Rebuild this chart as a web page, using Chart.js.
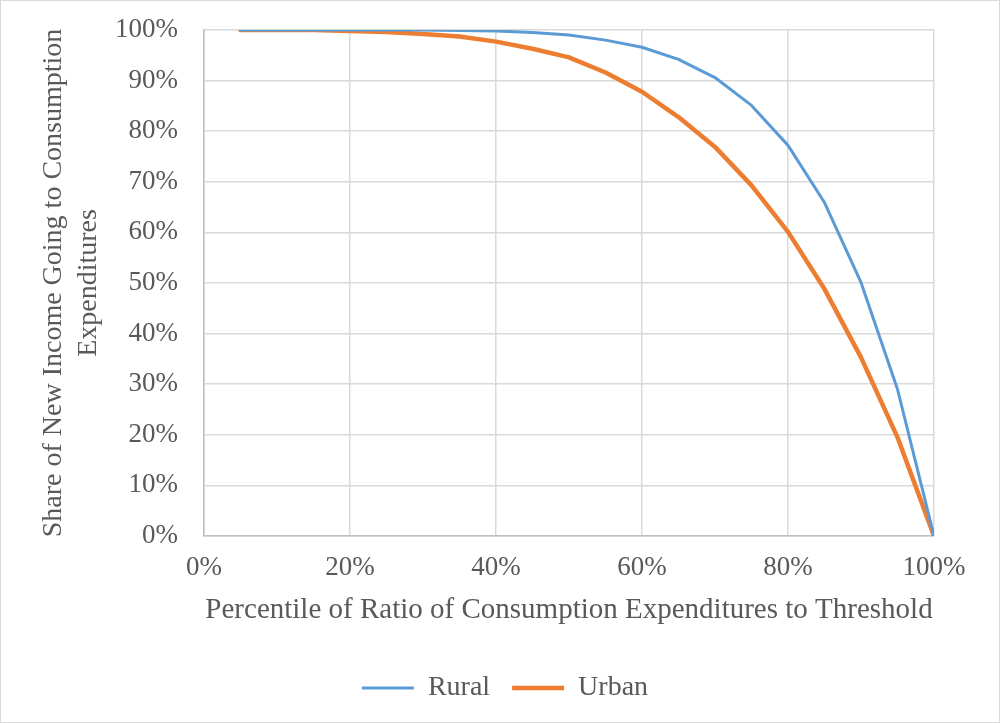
<!DOCTYPE html>
<html>
<head>
<meta charset="utf-8">
<script src="https://cdn.jsdelivr.net/npm/chart.js@4"></script>
<style>
  html, body { margin: 0; padding: 0; background: #fff; }
  #wrap { position: relative; width: 998px; height: 721px; border: 1px solid #d9d9d9; }
</style>
</head>
<body>
<div id="wrap"><canvas id="chart"></canvas></div>
<script>
// percentile of ratio (x, in %) and share of new income going to consumption (y, in %)
const percentiles = [5, 10, 15, 20, 25, 30, 35, 40, 45, 50, 55, 60, 65, 70, 75, 80, 85, 90, 95, 100];
const rural = [100, 100, 100, 100, 100, 100, 99.9, 99.8, 99.5, 99.0, 98.0, 96.6, 94.2, 90.6, 85.1, 77.2, 65.9, 50.1, 29.0, 0];
const urban = [100, 100, 100, 99.8, 99.6, 99.2, 98.7, 97.7, 96.3, 94.6, 91.6, 87.8, 82.8, 76.9, 69.3, 60.1, 48.8, 35.3, 19.5, 0];

const xTitle = "Percentile of Ratio of Consumption Expenditures to Threshold";
const yTitle = ["Share of New Income Going to Consumption", "Expenditures"];

const font = "'Liberation Serif', 'Times New Roman', serif";
const textColor = "#595959";
const gridColor = "#d9d9d9";

function points(vals) {
  return percentiles.map((p, i) => ({ x: p, y: vals[i] }));
}

// legend sits centred on the whole chart box in the original, not the padded area
const legendShift = {
  id: "legendShift",
  afterLayout(chart) {
    chart.legend.left += 20;
    chart.legend.right += 20;
  },
};

new Chart(document.getElementById("chart"), {
  type: "line",
  plugins: [legendShift],
  data: {
    datasets: [
      {
        label: "Rural",
        data: points(rural),
        borderColor: "#5b9bd5",
        backgroundColor: "#5b9bd5",
        borderWidth: 3,
        borderCapStyle: "round",
        borderJoinStyle: "round",
        pointRadius: 0,
        tension: 0,
      },
      {
        label: "Urban",
        data: points(urban),
        borderColor: "#ed7d31",
        backgroundColor: "#ed7d31",
        borderWidth: 4.5,
        borderCapStyle: "round",
        borderJoinStyle: "round",
        pointRadius: 0,
        tension: 0,
      },
    ],
  },
  options: {
    responsive: true,
    maintainAspectRatio: false,
    animation: false,
    layout: { padding: { left: 35, right: 65, top: 29, bottom: 10 } },
    plugins: {
      legend: {
        position: "bottom",
        labels: {
          color: textColor,
          font: { family: font, size: 28 },
          usePointStyle: true,
          pointStyle: "line",
          pointStyleWidth: 52,
          boxWidth: 52,
          padding: 22,
        },
      },
      tooltip: { enabled: false },
    },
    scales: {
      x: {
        type: "linear",
        min: 0,
        max: 100,
        afterFit: (s) => { s.height = 116; },
        ticks: {
          stepSize: 20,
          color: textColor,
          font: { family: font, size: 27 },
          callback: (v) => v + "%",
          padding: 16,
        },
        grid: { color: gridColor, lineWidth: 1.5, drawTicks: false },
        border: { color: "#bfbfbf", width: 1.5 },
        title: {
          display: true,
          text: xTitle,
          color: textColor,
          font: { family: font, size: 29 },
          padding: { top: 4, bottom: 24 },
        },
      },
      y: {
        min: 0,
        max: 100,
        afterFit: (s) => {
          s.width = 168;
          s.paddingTop = 0;
          s.paddingBottom = 0;
        },
        ticks: {
          stepSize: 10,
          color: textColor,
          font: { family: font, size: 27 },
          callback: (v) => v + "%",
          padding: 26,
        },
        grid: { color: gridColor, lineWidth: 1.5, drawTicks: false },
        border: { color: "#bfbfbf", width: 1.5 },
        title: {
          display: true,
          text: yTitle,
          color: textColor,
          font: { family: font, size: 28, lineHeight: 1.25 },
          padding: { top: 0, bottom: 8 },
        },
      },
    },
  },
});
</script>
</body>
</html>
